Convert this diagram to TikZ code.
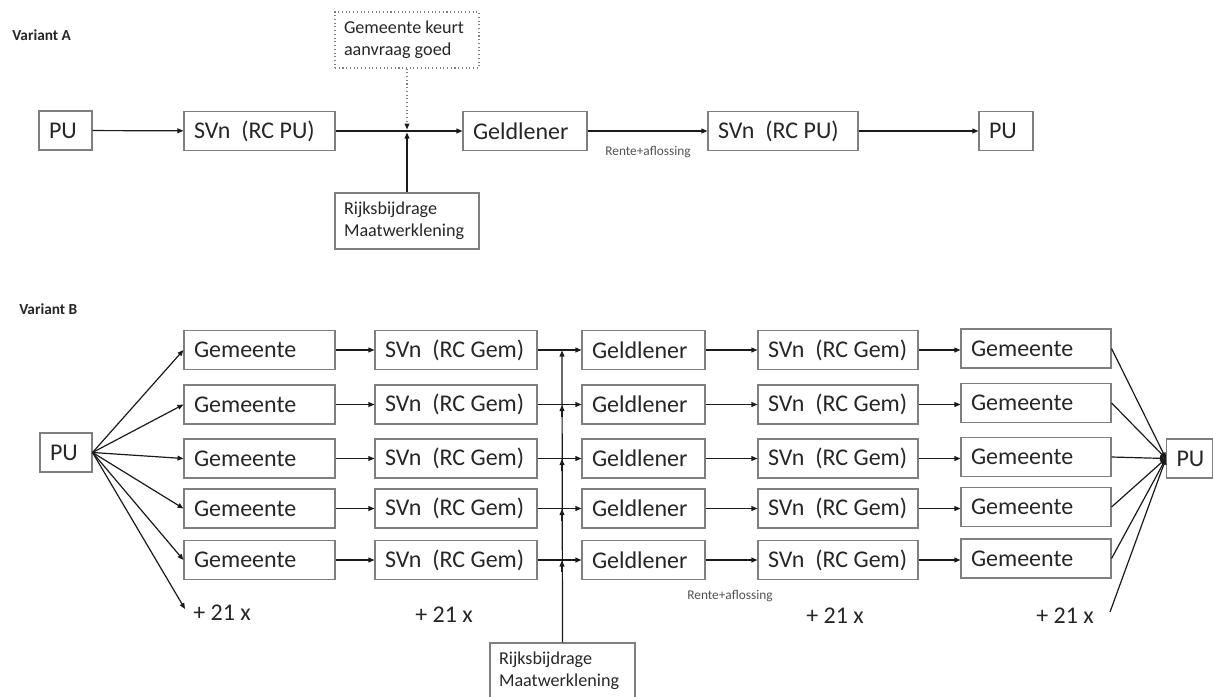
\documentclass[tikz,border=0pt]{standalone}
\usepackage{fontspec}
\setmainfont{Carlito}
\usetikzlibrary{arrows.meta}
\definecolor{txt}{HTML}{262626}
\definecolor{boxgray}{HTML}{7F7F7F}
\definecolor{ln}{HTML}{1A1A1A}
\newcommand{\ind}{\hspace*{5.75pt}}
\begin{document}
\begin{tikzpicture}[x=0.75pt,y=-0.75pt,
  bx/.style={draw=boxgray, line width=0.8pt, text width=#1, align=flush left,
    inner xsep=1pt, inner ysep=0pt, minimum height=29.25pt, text=txt,
    font=\fontsize{18}{20}\selectfont, execute at begin node={\hspace*{6.5pt}}},
  sbx/.style={draw=boxgray, line width=0.8pt, text width=#1, align=flush left,
    inner xsep=1pt, inner ysep=0pt, minimum height=42pt, text=txt,
    font=\fontsize{13.6}{16.5}\selectfont},
  arr/.style={draw=ln, line width=0.9pt, -{Triangle[length=4.5pt,width=3.6pt]}},
  darr/.style={draw=boxgray, line width=0.8pt, dotted, -{Triangle[length=4.5pt,width=3.6pt,color=ln]}},
  lbl/.style={inner sep=0pt, text=txt, font=\fontsize{18}{20}\selectfont},
  small/.style={inner sep=0pt, text=txt!80, font=\fontsize{10}{12}\selectfont},
  head/.style={inner sep=0pt, anchor=west, text=txt, font=\bfseries\fontsize{11.5}{13}\selectfont}]
\useasboundingbox (0,0) rectangle (1213,696);

% ---------------- Variant A ----------------
\node[head] (va) at (12,35) {Variant A};
\node[bx=37.75pt] (puA) at (65.5,130.5) {PU};
\node[bx=111.25pt] (svA) at (259.5,131) {SVn\ \ (RC PU)};
\node[bx=91pt] (gdA) at (525,131) {Geldlener};
\node[bx=110.5pt] (sv2A) at (783,131) {SVn\ \ (RC PU)};
\node[bx=38.5pt] (pu2A) at (1006,131) {PU};
\node[sbx=106pt, dotted] (gk) at (407,40) {\ind Gemeente keurt\\\ind aanvraag goed};
\node[sbx=106pt] (rbA) at (407,221) {\ind Rijksbijdrage\\\ind Maatwerklening};
\coordinate (jAt) at (407,129.5);
\coordinate (jAb) at (407,132.5);
\draw[arr] (puA) -- (svA);
\draw[arr] (svA) -- (gdA);
\draw[arr] (gdA) -- (sv2A);
\draw[arr] (sv2A) -- (pu2A);
\draw[darr] (gk.south) -- (jAt);
\draw[arr] (rbA.north) -- (jAb);
\node[small] (raA) at (648,152) {Rente+aflossing};

% ---------------- Variant B ----------------
\node[head] (vb) at (19,309) {Variant B};
\node[bx=37pt] (puL) at (66,452.5) {PU};
\node[bx=32.5pt] (puR) at (1189.5,458.5) {PU};
\node[sbx=106.75pt] (rbB) at (562.5,671) {\ind Rijksbijdrage\\\ind Maatwerklening};

\foreach \i/\y in {1/350,2/404.5,3/458.5,4/508.5,5/560} {
  \node[bx=111.25pt] (ga\i) at (259.5,\y) {Gemeente};
  \node[bx=119.5pt] (sa\i) at (456,\y) {SVn\ \ (RC Gem)};
  \node[bx=90.25pt] (gl\i) at (643.5,\y) {Geldlener};
  \node[bx=118pt] (sb\i) at (838,\y) {SVn\ \ (RC Gem)};
  \node[bx=110.5pt] (gb\i) at (1036,\y-1.5) {Gemeente};
  \coordinate (j\i) at (562,\y+0.5);
  \coordinate (k\i) at (562,\y+12);
  \draw[arr] (puL.east) -- (ga\i.west);
  \draw[arr] (ga\i) -- (sa\i);
  \draw[arr] (sa\i) -- (gl\i);
  \draw[arr] (gl\i) -- (sb\i);
  \draw[arr] (sb\i.east) -- (gb\i.west |- sb\i.east);
  \draw[arr] (gb\i.east) -- (puR.west);
}
\draw[arr] (rbB.north) -- (j1);
\foreach \i in {2,3,4,5} { \draw[arr] (k\i) -- (j\i); }

\node[lbl, anchor=west] (p1) at (193,613) {+ 21 x};
\node[lbl, anchor=west] (p2) at (415,615) {+ 21 x};
\node[lbl, anchor=west] (p3) at (806,616) {+ 21 x};
\node[lbl, anchor=west] (p4) at (1036,616) {+ 21 x};
\coordinate (c1) at (185,609);
\coordinate (c4) at (1110,612);
\draw[arr] (puL.east) -- (c1);
\draw[arr] (c4) -- (puR.west);
\node[small] (raB) at (730,596) {Rente+aflossing};
\end{tikzpicture}
\end{document}
